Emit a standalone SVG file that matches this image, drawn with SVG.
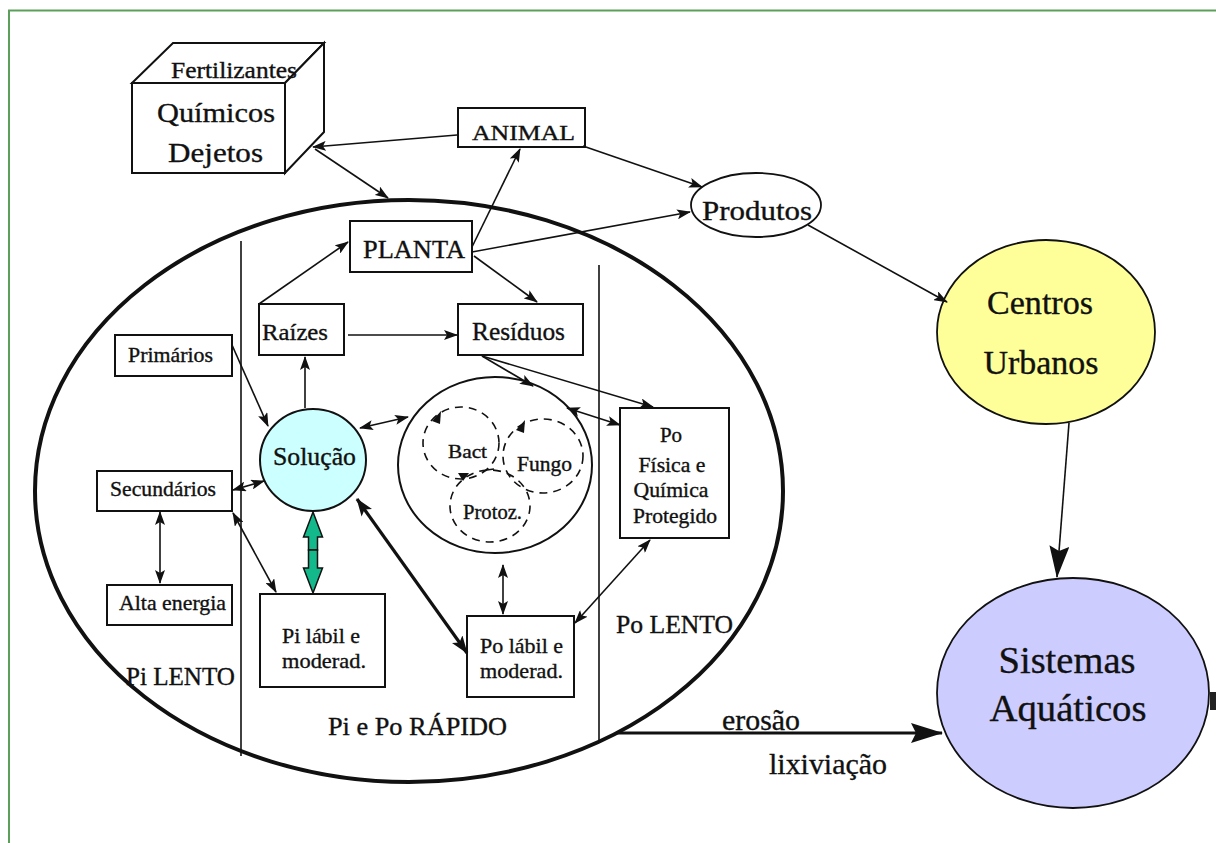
<svg xmlns="http://www.w3.org/2000/svg" width="1216" height="843" viewBox="0 0 1216 843">
  <style>
    text { font-family: "Liberation Serif", "Times New Roman", serif; fill: #111; stroke: #111; stroke-width: 0.35; }
    .box { fill: #fff; stroke: #111; stroke-width: 2; }
    .ln { stroke: #111; stroke-width: 1.6; fill: none; }
    .thick { stroke: #111; stroke-width: 3.2; fill: none; }
    .dash { fill: none; stroke: #111; stroke-width: 1.6; stroke-dasharray: 8 6; }
    .end { marker-end: url(#ah); }
    .both { marker-start: url(#ah); marker-end: url(#ah); }
  </style>
  <defs>
    <marker id="ah" viewBox="0 0 14 10" refX="13" refY="5" markerWidth="14" markerHeight="10" markerUnits="userSpaceOnUse" orient="auto-start-reverse">
      <path d="M0,0 L14,5 L0,10 L3,5 z" fill="#111"/>
    </marker>
    <marker id="ahThick" viewBox="0 0 18 13" refX="17" refY="6.5" markerWidth="18" markerHeight="13" markerUnits="userSpaceOnUse" orient="auto-start-reverse">
      <path d="M0,0 L18,6.5 L0,13 L4,6.5 z" fill="#111"/>
    </marker>
    <marker id="ahBig" viewBox="0 0 32 20" refX="31" refY="10" markerWidth="32" markerHeight="20" markerUnits="userSpaceOnUse" orient="auto">
      <path d="M0,0 L32,10 L0,20 L5,10 z" fill="#111"/>
    </marker>
  </defs>

  <!-- page frame -->
  <rect x="9" y="10.5" width="1300" height="900" fill="#fff" stroke="#5b9f5b" stroke-width="2"/>

  <!-- soil compartment -->
  <g id="solo">
    <ellipse cx="409" cy="491" rx="374" ry="291" fill="none" stroke="#111" stroke-width="4"/>
    <line x1="241" y1="241" x2="241" y2="756" stroke="#111" stroke-width="1.6"/>
    <line x1="599" y1="265" x2="599" y2="742" stroke="#111" stroke-width="1.6"/>
    <text x="126" y="685" font-size="25" textLength="109" lengthAdjust="spacingAndGlyphs">Pi LENTO</text>
    <text x="328" y="735" font-size="26" textLength="179" lengthAdjust="spacingAndGlyphs">Pi e Po RÁPIDO</text>
    <text x="616" y="633" font-size="25" textLength="117" lengthAdjust="spacingAndGlyphs">Po LENTO</text>
  </g>

  <!-- inputs cube -->
  <g id="insumos">
    <path d="M132,83 L173,43 L324,43 L285,83 Z" class="box"/>
    <path d="M285,83 L324,43 L324,132 L285,173 Z" class="box"/>
    <rect x="132" y="83" width="153" height="90" class="box"/>
    <text x="171" y="78" font-size="23" textLength="126" lengthAdjust="spacingAndGlyphs">Fertilizantes</text>
    <text x="157" y="122" font-size="28" textLength="118" lengthAdjust="spacingAndGlyphs">Químicos</text>
    <text x="168" y="162" font-size="28" textLength="95" lengthAdjust="spacingAndGlyphs">Dejetos</text>
  </g>

  <g id="animal">
    <rect x="458" y="108" width="127" height="39" class="box"/>
    <text x="472" y="140" font-size="22" textLength="103" lengthAdjust="spacingAndGlyphs">ANIMAL</text>
  </g>

  <g id="produtos">
    <ellipse cx="756" cy="205" rx="65" ry="32" fill="#fff" stroke="#111" stroke-width="1.8"/>
    <text x="702" y="220" font-size="28" textLength="110" lengthAdjust="spacingAndGlyphs">Produtos</text>
  </g>

  <g id="planta">
    <rect x="350" y="221" width="122" height="51" class="box"/>
    <text x="363" y="258" font-size="25" textLength="102" lengthAdjust="spacingAndGlyphs">PLANTA</text>
  </g>

  <g id="raizes">
    <rect x="259" y="304" width="85" height="51" class="box"/>
    <text x="262" y="340" font-size="24" textLength="66" lengthAdjust="spacingAndGlyphs">Raízes</text>
  </g>

  <g id="residuos">
    <rect x="458" y="304" width="125" height="51" class="box"/>
    <text x="472" y="340" font-size="25" textLength="93" lengthAdjust="spacingAndGlyphs">Resíduos</text>
  </g>

  <g id="primarios">
    <rect x="115" y="335" width="117" height="41" class="box"/>
    <text x="128" y="362" font-size="21" textLength="85" lengthAdjust="spacingAndGlyphs">Primários</text>
  </g>

  <g id="secundarios">
    <rect x="97" y="471" width="135" height="40" class="box"/>
    <text x="110" y="496" font-size="21" textLength="106" lengthAdjust="spacingAndGlyphs">Secundários</text>
  </g>

  <g id="alta-energia">
    <rect x="107" y="585" width="125" height="40" class="box"/>
    <text x="119" y="610" font-size="21" textLength="107" lengthAdjust="spacingAndGlyphs">Alta energia</text>
  </g>

  <g id="solucao">
    <ellipse cx="313" cy="460" rx="53" ry="51" fill="#ccffff" stroke="#111" stroke-width="2"/>
    <text x="273" y="465" font-size="25" textLength="83" lengthAdjust="spacingAndGlyphs">Solução</text>
  </g>

  <g id="pi-labil">
    <rect x="260" y="594" width="125" height="93" class="box"/>
    <text x="282" y="643" font-size="22" textLength="78" lengthAdjust="spacingAndGlyphs">Pi lábil e</text>
    <text x="282" y="668" font-size="22" textLength="84" lengthAdjust="spacingAndGlyphs">moderad.</text>
  </g>

  <g id="po-labil">
    <rect x="467" y="616" width="107" height="81" class="box"/>
    <text x="480" y="653" font-size="22" textLength="83" lengthAdjust="spacingAndGlyphs">Po lábil e</text>
    <text x="480" y="678" font-size="22" textLength="83" lengthAdjust="spacingAndGlyphs">moderad.</text>
  </g>

  <g id="po-protegido">
    <rect x="620" y="408" width="109" height="130" class="box"/>
    <text x="671" y="442" font-size="21" text-anchor="middle">Po</text>
    <text x="672" y="472" font-size="21" text-anchor="middle" textLength="67" lengthAdjust="spacingAndGlyphs">Física e</text>
    <text x="671" y="497" font-size="21" text-anchor="middle" textLength="75" lengthAdjust="spacingAndGlyphs">Química</text>
    <text x="675" y="523" font-size="21" text-anchor="middle" textLength="84" lengthAdjust="spacingAndGlyphs">Protegido</text>
  </g>

  <!-- soil biomass with its three groups -->
  <g id="biomassa">
    <ellipse cx="495" cy="465" rx="97" ry="88" fill="#fff" stroke="#111" stroke-width="2"/>
    <ellipse cx="461" cy="443" rx="38" ry="36" class="dash"/>
    <ellipse cx="543" cy="456" rx="40" ry="37" class="dash"/>
    <ellipse cx="490" cy="506" rx="40" ry="36" class="dash"/>
    <path d="M432,421 L441,411 L440,424 Z" fill="#111"/>
    <path d="M516,430 L525,420 L524,433 Z" fill="#111"/>
    <path d="M458,473 L469,473 L463,481 Z" fill="#111"/>
    <line x1="487" y1="470" x2="494" y2="469" stroke="#111" stroke-width="1.6"/>
    <text x="448" y="458" font-size="19" textLength="39" lengthAdjust="spacingAndGlyphs">Bact</text>
    <text x="517" y="471" font-size="20" textLength="55" lengthAdjust="spacingAndGlyphs">Fungo</text>
    <text x="463" y="519" font-size="20" textLength="59" lengthAdjust="spacingAndGlyphs">Protoz.</text>
  </g>

  <g id="centros-urbanos">
    <ellipse cx="1046" cy="332" rx="109" ry="92" fill="#ffff99" stroke="#111" stroke-width="1.8"/>
    <text x="1040" y="314" font-size="34" text-anchor="middle" textLength="106" lengthAdjust="spacingAndGlyphs">Centros</text>
    <text x="1041" y="374" font-size="34" text-anchor="middle" textLength="115" lengthAdjust="spacingAndGlyphs">Urbanos</text>
  </g>

  <g id="sistemas-aquaticos">
    <ellipse cx="1073" cy="693" rx="136" ry="115" fill="#ccccff" stroke="#111" stroke-width="1.8"/>
    <rect x="1210" y="692" width="6" height="18" fill="#222"/>
    <text x="1067" y="673" font-size="38" text-anchor="middle" textLength="137" lengthAdjust="spacingAndGlyphs">Sistemas</text>
    <text x="1068" y="721" font-size="38" text-anchor="middle" textLength="157" lengthAdjust="spacingAndGlyphs">Aquáticos</text>
  </g>

  <!-- connectors -->
  <g id="conectores">
    <line x1="457" y1="135" x2="313" y2="147" class="ln end"/>
    <line x1="315" y1="149" x2="388" y2="198" class="ln end"/>
    <line x1="472" y1="247" x2="520" y2="149" class="ln end"/>
    <line x1="583" y1="146" x2="702" y2="187" class="ln end"/>
    <line x1="472" y1="252" x2="690" y2="212" class="ln end"/>
    <line x1="474" y1="256" x2="537" y2="302" class="ln end"/>
    <line x1="808" y1="225" x2="947" y2="302" class="ln end"/>
    <line x1="1069" y1="423" x2="1057" y2="577" stroke="#111" stroke-width="1.6" marker-end="url(#ahBig)"/>
    <line x1="259" y1="304" x2="348" y2="242" class="ln end"/>
    <line x1="348" y1="335" x2="457" y2="335" class="ln end"/>
    <line x1="305" y1="408" x2="305" y2="357" class="ln end"/>
    <line x1="232" y1="345" x2="268" y2="426" class="ln end"/>
    <line x1="360" y1="428" x2="408" y2="417" class="ln both"/>
    <line x1="233" y1="490" x2="264" y2="481" class="ln both"/>
    <line x1="160" y1="512" x2="160" y2="583" class="ln both"/>
    <line x1="233" y1="513" x2="276" y2="592" class="ln both"/>
    <line x1="357" y1="499" x2="467" y2="653" class="thick" marker-start="url(#ahThick)" marker-end="url(#ahThick)"/>
    <line x1="482" y1="356" x2="533" y2="386" class="ln end"/>
    <line x1="482" y1="356" x2="653" y2="407" class="ln end"/>
    <line x1="567" y1="408" x2="620" y2="425" class="ln both"/>
    <line x1="503" y1="565" x2="503" y2="614" class="ln both"/>
    <line x1="575" y1="623" x2="650" y2="540" class="ln both"/>
    <line x1="616" y1="733" x2="942" y2="733" stroke="#111" stroke-width="3" marker-end="url(#ahBig)"/>
    <!-- green block double arrow: Solução / Pi lábil -->
    <path d="M313,512 L322.5,537 L317.5,537 L317.5,550 L308.5,550 L308.5,537 L303.5,537 Z" fill="#14b98b" stroke="#111" stroke-width="1.5"/>
    <path d="M313,593 L322.5,568 L317.5,568 L317.5,550 L308.5,550 L308.5,568 L303.5,568 Z" fill="#14b98b" stroke="#111" stroke-width="1.5"/>
    <text x="722" y="730" font-size="29" textLength="78" lengthAdjust="spacingAndGlyphs">erosão</text>
    <text x="769" y="774" font-size="29" textLength="118" lengthAdjust="spacingAndGlyphs">lixiviação</text>
  </g>
</svg>
